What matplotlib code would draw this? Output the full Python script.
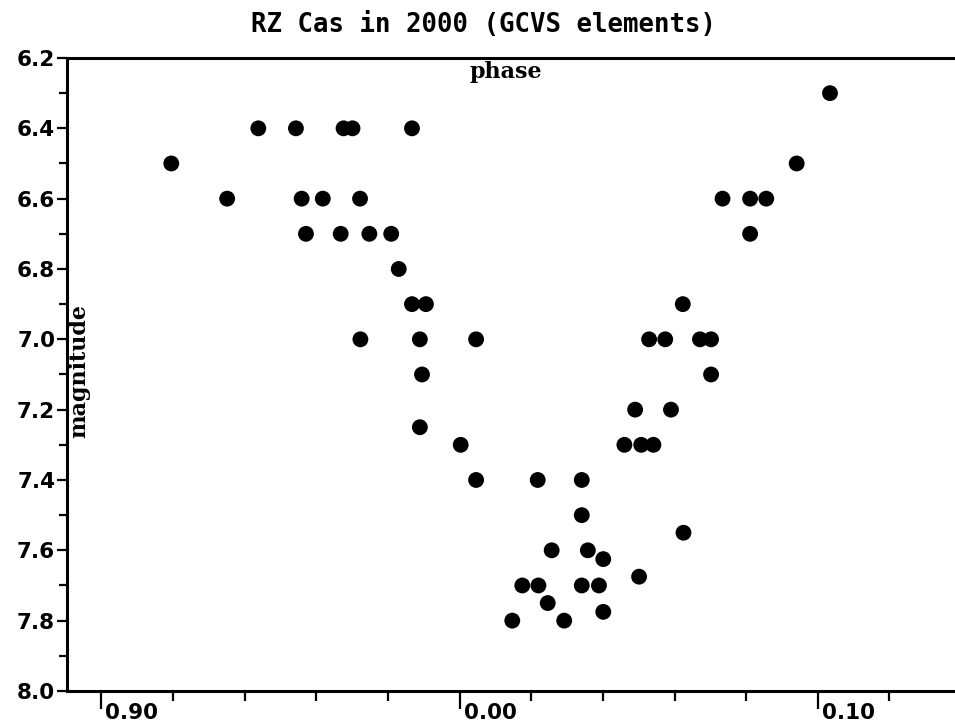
import matplotlib
matplotlib.use("Agg")
import matplotlib.pyplot as plt
from matplotlib.ticker import MultipleLocator
from matplotlib.transforms import ScaledTranslation

# ---- data (phase relative to primary minimum, visual magnitude) ----
phase = [
    -0.0562, -0.0457, -0.0324, -0.0299, -0.0133,
    -0.0805,
    -0.0649, -0.0441, -0.0382, -0.0278,
    -0.0429, -0.0332, -0.0252, -0.0191,
    -0.0170,
    -0.0133, -0.0094,
    -0.0277, -0.0111, 0.0046,
    -0.0105,
    -0.0111,
    0.0003,
    0.0046,
    0.0490, 0.0590,
    0.0460, 0.0507, 0.0541,
    0.0218, 0.0341,
    0.0341,
    0.0625,
    0.0257, 0.0358,
    0.0401,
    0.0501,
    0.0175, 0.0220, 0.0341, 0.0389,
    0.0246,
    0.0401,
    0.0147, 0.0292,
    0.1034,
    0.0941,
    0.0734, 0.0811, 0.0856,
    0.0811,
    0.0623,
    0.0529, 0.0574, 0.0671, 0.0702,
    0.0702,
]
magnitude = [
    6.4, 6.4, 6.4, 6.4, 6.4,
    6.5,
    6.6, 6.6, 6.6, 6.6,
    6.7, 6.7, 6.7, 6.7,
    6.8,
    6.9, 6.9,
    7.0, 7.0, 7.0,
    7.1,
    7.25,
    7.3,
    7.4,
    7.2, 7.2,
    7.3, 7.3, 7.3,
    7.4, 7.4,
    7.5,
    7.55,
    7.6, 7.6,
    7.625,
    7.675,
    7.7, 7.7, 7.7, 7.7,
    7.75,
    7.775,
    7.8, 7.8,
    6.3,
    6.5,
    6.6, 6.6, 6.6,
    6.7,
    6.9,
    7.0, 7.0, 7.0, 7.0,
    7.1,
]

xtick_values = [-0.10, 0.00, 0.10]
xtick_labels = ["0.90", "0.00", "0.10"]
ytick_values = [6.2, 6.4, 6.6, 6.8, 7.0, 7.2, 7.4, 7.6, 7.8, 8.0]
ytick_labels = ["6.2", "6.4", "6.6", "6.8", "7.0", "7.2", "7.4", "7.6", "7.8", "8.0"]

title = "RZ Cas in 2000 (GCVS elements)"
xlabel = "phase"
ylabel = "magnitude"

# ---- figure ----
fig = plt.figure(figsize=(9.55, 7.23), dpi=100)
ax = fig.add_axes([0.0702, 0.0443, 0.9298, 0.8755])

ax.scatter(phase, magnitude, s=130, color="black", edgecolors="none", zorder=3)

ax.set_xlim(-0.1096, 0.1383)
ax.set_ylim(8.0, 6.2)

for side in ["left", "bottom", "top"]:
    ax.spines[side].set_linewidth(2.2)
    ax.spines[side].set_color("black")
ax.spines["right"].set_visible(False)

ax.set_xticks(xtick_values)
ax.set_xticklabels([])
ax.xaxis.set_minor_locator(MultipleLocator(0.02))
ax.tick_params(axis="x", which="major", direction="out", length=13, width=1.6, top=False)
ax.tick_params(axis="x", which="minor", direction="out", length=7, width=1.6, top=False)

ax.set_yticks(ytick_values)
ax.set_yticklabels(ytick_labels, fontfamily="DejaVu Sans", fontweight="bold", fontsize=15.5)
ax.yaxis.set_minor_locator(MultipleLocator(0.1))
ax.tick_params(axis="y", which="major", direction="out", length=7.5, width=1.6, pad=1)
ax.tick_params(axis="y", which="minor", direction="out", length=6, width=1.6)

# x tick labels placed to the right of their ticks
off = ScaledTranslation(4 / 100, -12 / 100, fig.dpi_scale_trans)
for v, lab in zip(xtick_values, xtick_labels):
    ax.text(v, 0, lab, transform=ax.get_xaxis_transform() + off,
            ha="left", va="top", fontfamily="DejaVu Sans", fontweight="bold",
            fontsize=15.5, clip_on=False)

ax.text(0.494, 0.978, xlabel, transform=ax.transAxes, ha="center", va="center",
        fontfamily="DejaVu Serif", fontweight="bold", fontsize=16)
ax.text(0.0135, 0.5055, ylabel, transform=ax.transAxes, ha="center", va="center",
        rotation=90, fontfamily="DejaVu Serif", fontweight="bold", fontsize=16)

fig.text(483 / 955, 1 - 25 / 723, title, ha="center", va="center",
         fontfamily="DejaVu Sans Mono", fontweight="bold", fontsize=18.5)

fig.savefig("out.png", dpi=100, facecolor="white")
